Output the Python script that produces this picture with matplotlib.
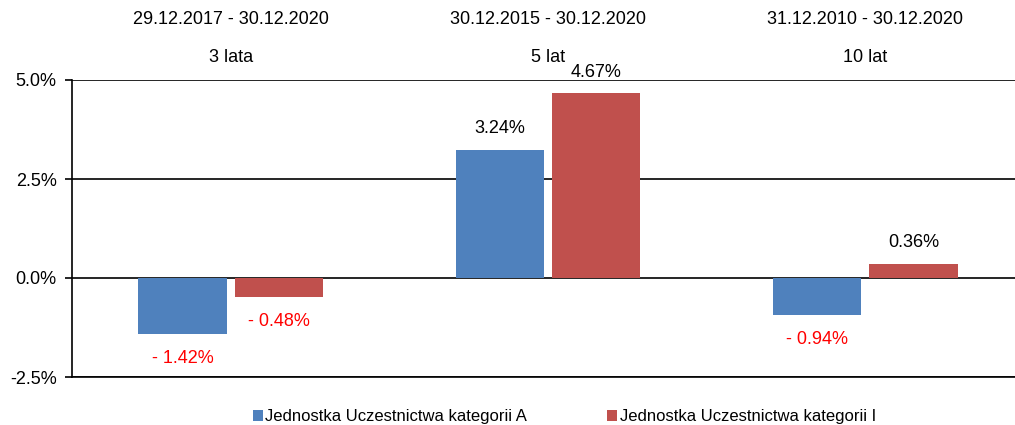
import numpy as np
import matplotlib.pyplot as plt

plt.rcParams['font.family'] = ['Liberation Sans', 'DejaVu Sans']

okresy = ['29.12.2017 - 30.12.2020', '30.12.2015 - 30.12.2020', '31.12.2010 - 30.12.2020']
horyzont = ['3 lata', '5 lat', '10 lat']
kat_a = [-1.42, 3.24, -0.94]
kat_i = [-0.48, 4.67, 0.36]
serie = ['Jednostka Uczestnictwa kategorii A', 'Jednostka Uczestnictwa kategorii I']
kolory = ['#4f81bd', '#c0504d']

W, H = 1015, 425
fig = plt.figure(figsize=(W / 100, H / 100), dpi=100)
ax = fig.add_axes([72 / W, 48 / H, 952 / W, 297 / H])

x = np.arange(len(okresy))
w = 0.278
off = 0.152

for i, (vals, kol) in enumerate(zip([kat_a, kat_i], kolory)):
    pos = x + (off if i else -off)
    ax.bar(pos, vals, width=w, color=kol, label=serie[i], zorder=3)
    for p, v in zip(pos, vals):
        if v >= 0:
            ax.text(p, v + 0.53, f'{v:.2f}%', ha='center', va='center',
                    fontsize=13, color='black')
        else:
            ax.text(p, v - 0.62, f'- {abs(v):.2f}%', ha='center', va='center',
                    fontsize=13, color='#ff0000')

ax.set_ylim(-2.5, 5.0)
ax.set_xlim(-0.5, 2.5)
ax.set_yticks([-2.5, 0.0, 2.5, 5.0])
ax.set_yticklabels(['-2.5%', '0.0%', '2.5%', '5.0%'], fontsize=13)
ax.set_xticks([])
ax.yaxis.grid(True, color='black', linewidth=1.2, zorder=1)
ax.tick_params(axis='y', length=5, width=1.2, color='black', pad=6)
for s in ['top', 'right']:
    ax.spines[s].set_visible(False)
ax.spines['left'].set_linewidth(1.2)
ax.spines['bottom'].set_linewidth(1.2)

# opis okresów nad grupami
fig.canvas.draw()
for xi, okr, hor in zip(x, okresy, horyzont):
    xf = ax.transData.transform((xi, 0))[0] / fig.bbox.width
    fig.text(xf, 1 - 20 / H, okr, ha='center', va='center', fontsize=13)
    fig.text(xf, 1 - 57 / H, hor, ha='center', va='center', fontsize=13)

fig.legend(loc='center', bbox_to_anchor=(0.556, 1 - 417 / H), ncol=2,
           frameon=False, fontsize=12, handlelength=0.6, handleheight=0.6,
           handletextpad=0.15, columnspacing=4.8, borderpad=0)

fig.savefig('out.png', dpi=100)
